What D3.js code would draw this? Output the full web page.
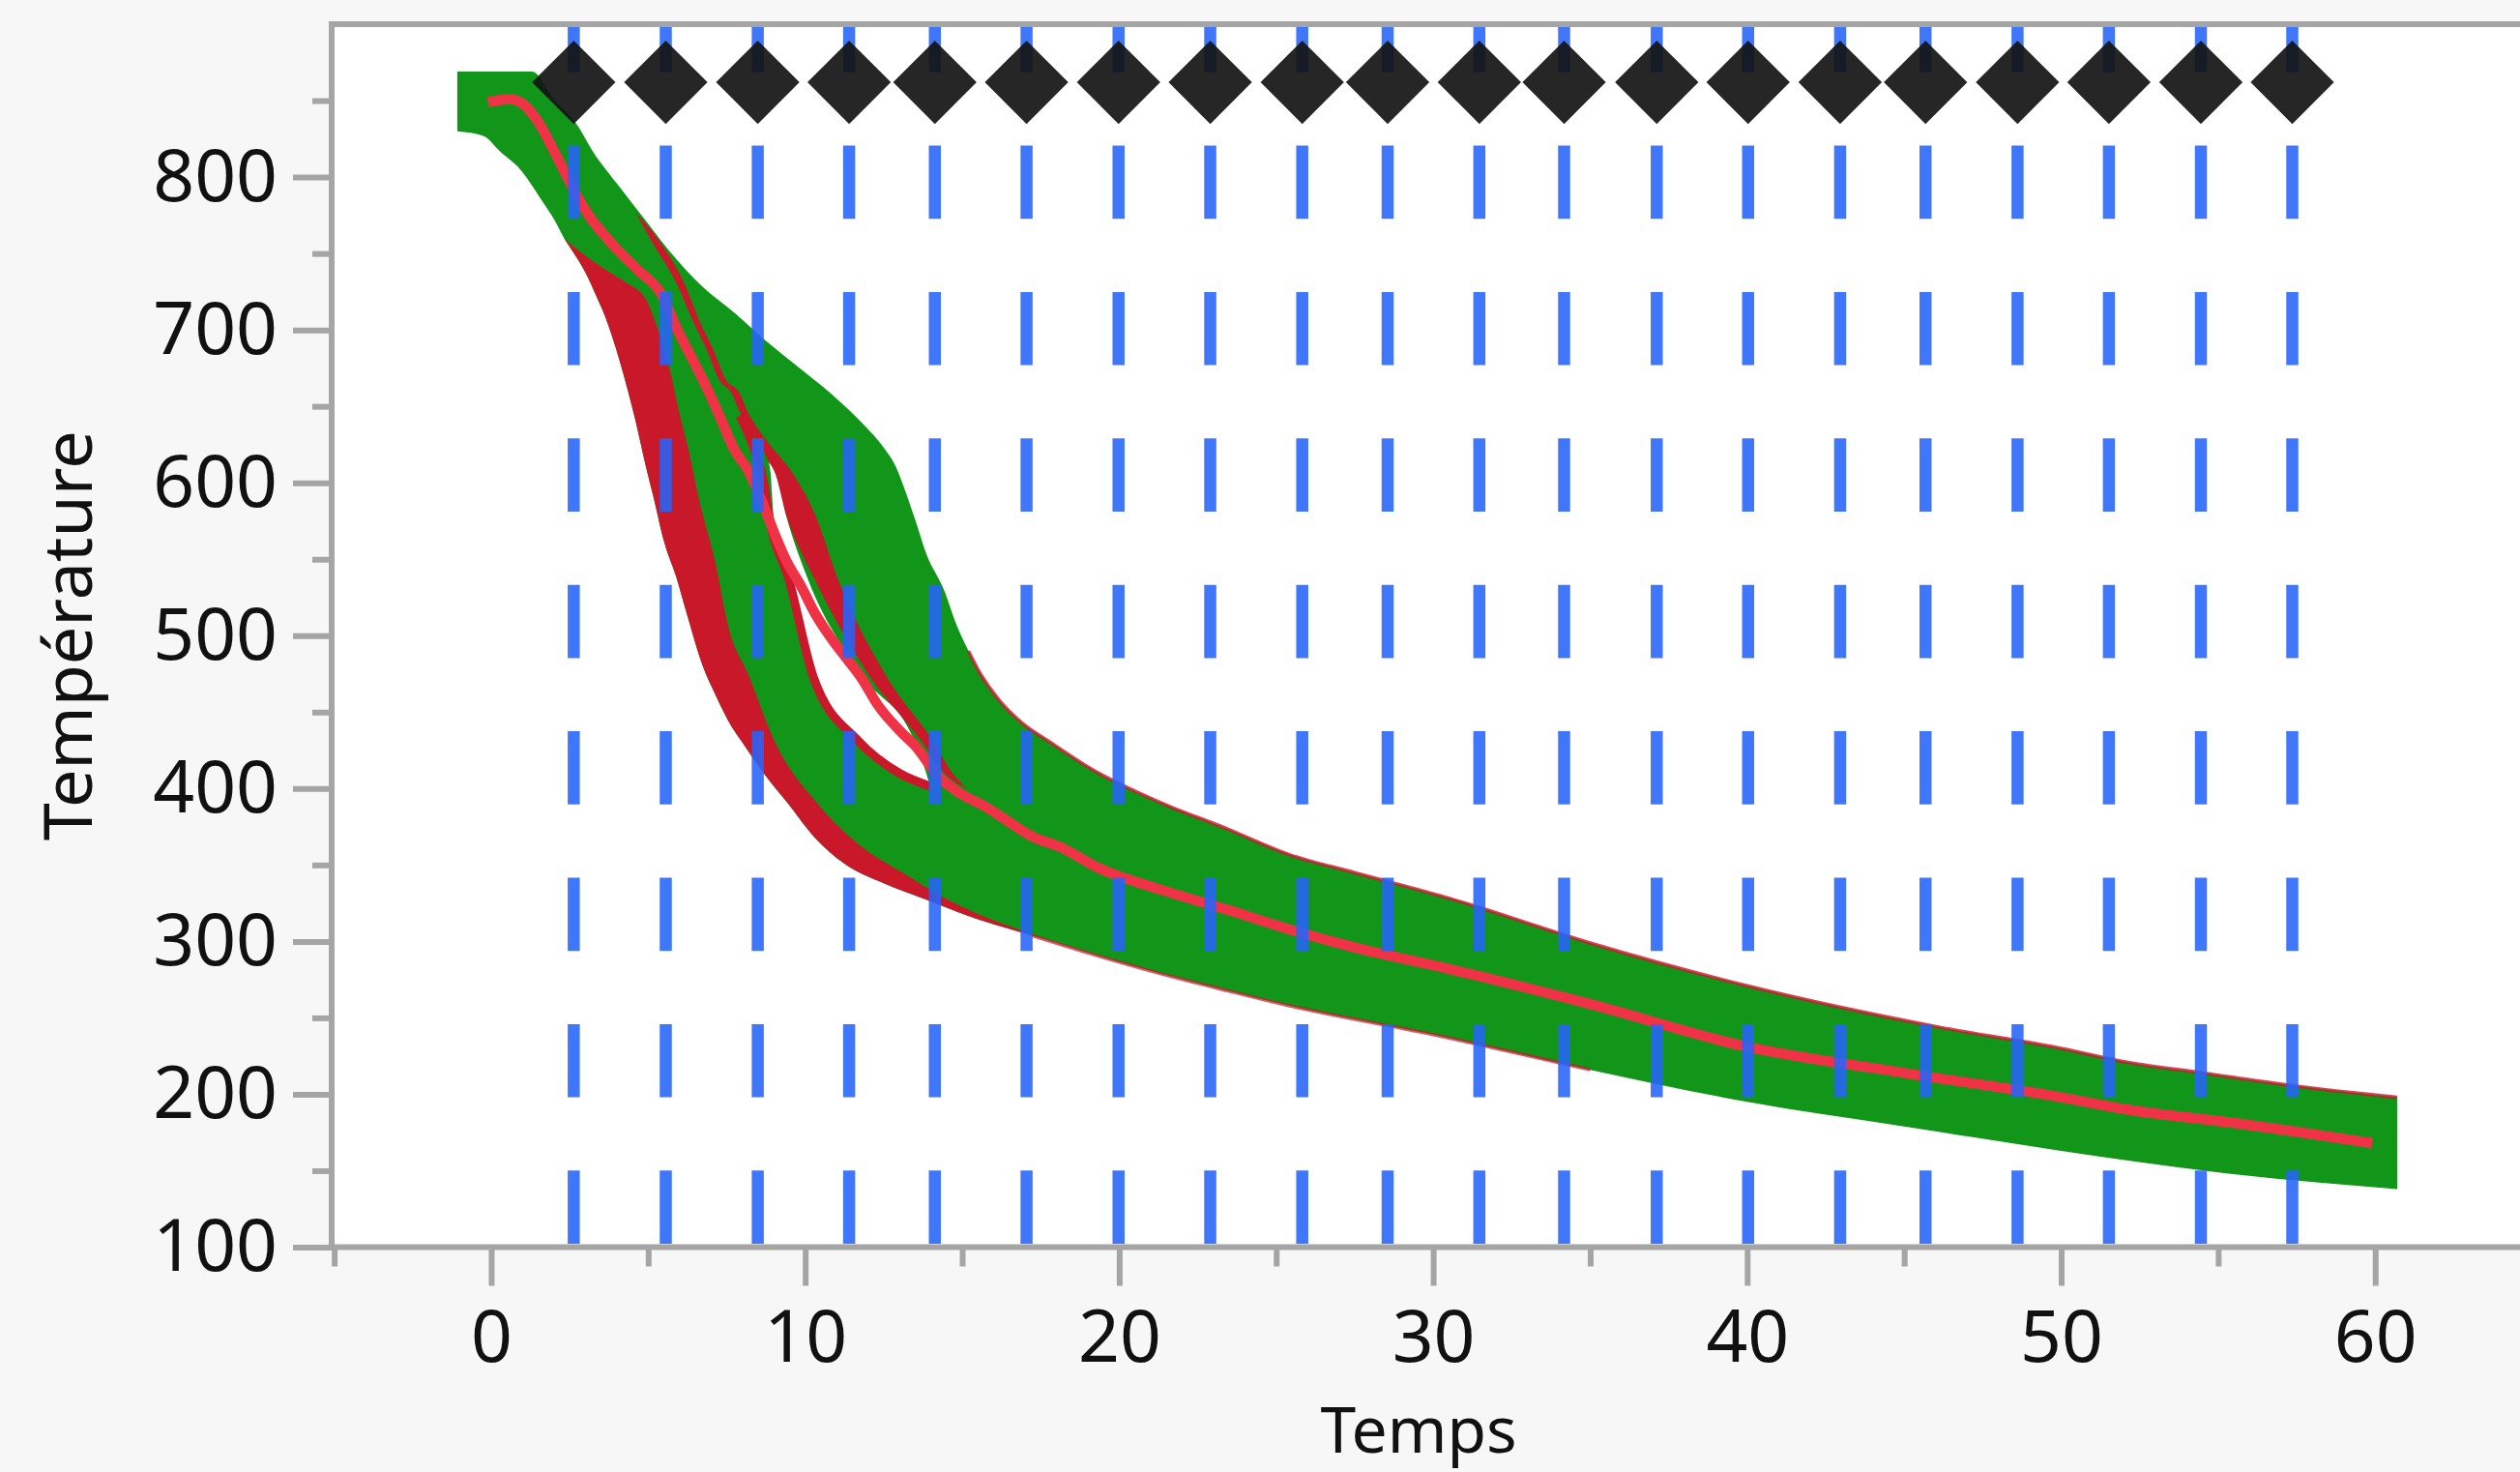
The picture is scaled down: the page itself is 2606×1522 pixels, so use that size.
<!DOCTYPE html>
<html>
<head>
<meta charset="utf-8">
<script src="https://cdn.jsdelivr.net/npm/d3@7"></script>
<style>
  html, body { margin: 0; padding: 0; background: #f7f7f7; }
  svg { display: block; }
  text { font-family: "Noto Sans", "Open Sans", sans-serif; fill: #111; }
</style>
</head>
<body>
<svg id="chart"></svg>
<script>
const W = 2606, H = 1522;

// knot positions (time) shown as diamonds + dashed lines
const knotTimes = [2.63, 5.56, 8.49, 11.4, 14.13, 17.05, 19.98, 22.9, 25.83, 28.55,
                   31.47, 34.17, 37.12, 40.03, 42.96, 45.68, 48.61, 51.52, 54.45, 57.36];
const knotMarkerLevel = 862;

// outer envelope of all curves [time, temperature]
const upperEdge = [[-1.08, 869], [1.3, 869], [2.0, 851], [2.74, 834], [3.23, 817], [4.07, 794],
  [4.9, 772], [5.7, 751], [6.74, 728], [7.76, 711], [8.68, 694], [9.76, 676], [10.84, 658],
  [11.86, 638], [12.5, 623], [12.9, 610], [13.2, 594], [13.5, 576], [13.85, 554], [14.44, 529],
  [14.8, 508], [15.2, 490], [15.5, 478], [16.17, 458], [16.9, 443], [17.83, 430], [19.1, 413],
  [21.3, 391], [23.4, 374], [25.4, 357], [27.5, 345], [30.55, 328], [35, 299], [40, 271],
  [46.1, 244], [50, 230], [52.1, 221], [54.5, 214], [57.25, 206], [59.3, 201], [60.7, 198]];

const lowerEdge = [[-1.08, 830], [-0.25, 827], [0.27, 817], [0.88, 806], [1.6, 785], [2.01, 772],
  [2.32, 760], [2.73, 747], [3.04, 736], [3.35, 722], [3.66, 707], [3.97, 688], [4.37, 659],
  [4.58, 642], [4.9, 613], [5.2, 588], [5.5, 562], [5.9, 538], [6.22, 515], [6.74, 480],
  [7.15, 461], [7.67, 440], [7.97, 431], [8.68, 410], [9.5, 389], [10.3, 368], [11.24, 351],
  [12.5, 338], [13.9, 327], [15.15, 317], [17.2, 304], [19.25, 291], [21.3, 279], [23.4, 268],
  [25.4, 258], [30, 239], [35, 216], [40, 195], [45, 179], [50, 163], [55.4, 148], [58.3, 142],
  [60.7, 138]];

// inner border of the fast-cooling red band
const redAInner = [[2.32, 760], [2.9, 750], [3.6, 740], [4.3, 731], [4.9, 721], [5.3, 701],
  [5.7, 673], [6.0, 645], [6.3, 620], [6.62, 589], [7.15, 547], [7.55, 506], [8.2, 474],
  [9.0, 432], [10.44, 389], [11.8, 362], [13.1, 345], [14.3, 330], [15.5, 318], [16.5, 310],
  [17.7, 301]];

// red band of the slow-cooling curves
const redBLow = [[4.6, 777], [5.11, 758], [5.91, 730], [6.44, 705], [6.84, 688], [7.27, 667],
  [7.67, 658], [7.88, 648], [8.19, 636], [8.56, 625], [8.99, 606], [9.39, 579], [10.32, 536],
  [12.07, 473], [13.7, 431], [14.44, 410], [15.15, 400]];
const redBHigh = [[4.6, 777], [5.36, 758], [6.16, 730], [6.65, 705], [7.05, 688], [7.48, 667],
  [7.9, 659], [8.13, 648], [8.47, 636], [8.87, 625], [9.61, 606], [10.32, 579], [11.06, 536],
  [12.6, 473], [14.07, 431], [14.69, 410], [15.15, 400]];

// white gap between the two groups
const gapLow = [[8.84, 613.5], [8.9, 605.8], [8.99, 578.6], [9.49, 536.2], [10.26, 473],
  [11.7, 430.6], [13.0, 409.7], [13.98, 401.4]];
const gapHigh = [[8.84, 613.5], [9.05, 605.8], [9.39, 578.6], [10.1, 536.2], [11.86, 473],
  [13.49, 430.6], [13.86, 409.7], [13.98, 401.4]];
const gapEdgeLine = [[7.92, 644], [8.32, 625], [8.68, 600], [8.84, 579], [9.49, 536],
  [10.26, 473], [11.7, 431], [13.0, 410], [13.98, 401.5]];

// mean function
const meanCurve = [[-0.1, 849], [0.6, 851], [1.0, 848], [1.5, 836], [2.0, 817], [2.42, 800],
  [3.04, 777], [3.86, 756], [4.68, 739], [5.4, 724], [5.91, 701], [6.43, 680], [6.94, 659],
  [7.35, 640], [7.76, 621], [8.16, 609], [8.6, 589], [9.0, 568], [9.4, 549], [9.85, 533],
  [10.3, 515], [10.84, 498], [11.36, 484], [11.8, 472], [12.3, 455], [13.1, 436], [13.5, 428],
  [14.2, 409], [15.0, 396], [15.67, 389], [16.5, 378], [17.2, 369], [18.2, 361], [19.25, 349],
  [21.3, 334], [23.4, 321], [25.4, 308], [27.5, 296], [30.5, 282], [35, 259], [40, 231],
  [45, 214], [50, 198], [52.1, 190], [55.6, 181], [59.9, 168]];

const xTickValues = [0, 10, 20, 30, 40, 50, 60];
const xMinorTicks = [-5, 5, 15, 25, 35, 45, 55];
const yTickValues = [100, 200, 300, 400, 500, 600, 700, 800];
const yMinorTicks = [150, 250, 350, 450, 550, 650, 750, 850];

const GREEN = '#12961a', DARKRED = '#c8182a', MEANRED = '#f03246', AXIS = '#a5a5a5';

const x = d3.scaleLinear().domain([-5.08, 64.15]).range([343, 2591]);
const y = d3.scaleLinear().domain([100, 900]).range([1289.5, 25]);

const svg = d3.select('#chart').attr('width', W).attr('height', H);
svg.append('rect').attr('width', W).attr('height', H).attr('fill', '#f7f7f7');
svg.append('rect')
  .attr('x', x.range()[0]).attr('y', y.range()[1])
  .attr('width', W - x.range()[0]).attr('height', y.range()[0] - y.range()[1])
  .attr('fill', '#fff');

const smooth = d3.line().x(d => x(d[0])).y(d => y(d[1])).curve(d3.curveMonotoneX);
// closed shape from a lower and an upper border
function band(a, b) {
  const p1 = smooth(a);
  const p2 = smooth(b.slice().reverse());
  return p1 + 'L' + p2.slice(1) + 'Z';
}

const curves = svg.append('g');

curves.append('path').attr('d', band(upperEdge, lowerEdge)).attr('fill', GREEN);

const redAOuter = lowerEdge.filter(d => d[0] >= 2.32 && d[0] <= 17.7);
curves.append('path').attr('d', band(redAOuter, redAInner)).attr('fill', DARKRED);

curves.append('path')
  .attr('d', smooth(upperEdge.filter(d => d[0] >= 15.2)))
  .attr('fill', 'none').attr('stroke', DARKRED).attr('stroke-width', 3.5).attr('stroke-opacity', 0.8);
curves.append('path')
  .attr('d', smooth(lowerEdge.filter(d => d[0] >= 17.2 && d[0] <= 35)))
  .attr('fill', 'none').attr('stroke', DARKRED).attr('stroke-width', 3.5).attr('stroke-opacity', 0.7);

curves.append('path').attr('d', band(redBLow, redBHigh)).attr('fill', DARKRED);
curves.append('path').attr('d', band(gapLow, gapHigh)).attr('fill', '#fff');
curves.append('path').attr('d', smooth(gapEdgeLine))
  .attr('fill', 'none').attr('stroke', DARKRED).attr('stroke-width', 9);

curves.append('path').attr('d', smooth(meanCurve))
  .attr('fill', 'none').attr('stroke', MEANRED).attr('stroke-width', 10.5)
  .attr('stroke-linejoin', 'round');

// knot lines and markers
svg.append('g').selectAll('line').data(knotTimes).join('line')
  .attr('x1', d => x(d)).attr('x2', d => x(d))
  .attr('y1', y(100)).attr('y2', y(900))
  .attr('stroke', 'rgb(37,100,249)').attr('stroke-opacity', 0.88)
  .attr('stroke-width', 12.5)
  .attr('stroke-dasharray', '75.7 75.7').attr('stroke-dashoffset', 147.9);

const diamond = d3.symbol().type(d3.symbolSquare).size(61 * 61);
svg.append('g').selectAll('path').data(knotTimes).join('path')
  .attr('d', diamond)
  .attr('transform', d => `translate(${x(d)},${y(knotMarkerLevel)}) rotate(45)`)
  .attr('fill', '#141414').attr('fill-opacity', 0.92);

// axes
function styleAxis(g) {
  g.select('.domain').remove();
  g.selectAll('.tick line').attr('stroke', AXIS).attr('stroke-width', 6);
  g.selectAll('.tick text').style('font-size', '75px').attr('fill', '#111');
}
svg.append('g').attr('transform', `translate(0,${y(100)})`)
  .call(d3.axisBottom(x).tickValues(xTickValues).tickSize(40).tickPadding(25).tickFormat(d3.format('d')))
  .call(styleAxis);
svg.append('g').attr('transform', `translate(0,${y(100)})`)
  .call(d3.axisBottom(x).tickValues(xMinorTicks).tickSize(20).tickFormat(''))
  .call(styleAxis);
svg.append('g').attr('transform', `translate(${x.range()[0]},0)`)
  .call(d3.axisLeft(y).tickValues(yTickValues).tickSize(40).tickPadding(16).tickFormat(d3.format('d')))
  .call(styleAxis);
svg.append('g').attr('transform', `translate(${x.range()[0]},0)`)
  .call(d3.axisLeft(y).tickValues(yMinorTicks).tickSize(20).tickFormat(''))
  .call(styleAxis);

// frame
const frame = svg.append('g').attr('stroke', AXIS).attr('stroke-width', 6);
frame.append('line').attr('x1', x.range()[0]).attr('x2', x.range()[0])
  .attr('y1', y(900) - 3).attr('y2', y(100) + 3);
frame.append('line').attr('x1', x.range()[0] - 3).attr('x2', W)
  .attr('y1', y(900)).attr('y2', y(900));
frame.append('line').attr('x1', x.range()[0] - 3).attr('x2', W)
  .attr('y1', y(100)).attr('y2', y(100));

// axis titles
svg.append('text')
  .attr('x', (x.range()[0] + x.range()[1]) / 2).attr('y', 1502)
  .attr('text-anchor', 'middle').style('font-size', '66px')
  .text('Temps');
svg.append('text')
  .attr('transform', `translate(95,${(y(100) + y(900)) / 2}) rotate(-90)`)
  .attr('text-anchor', 'middle').style('font-size', '70px')
  .text('Température');
</script>
</body>
</html>
